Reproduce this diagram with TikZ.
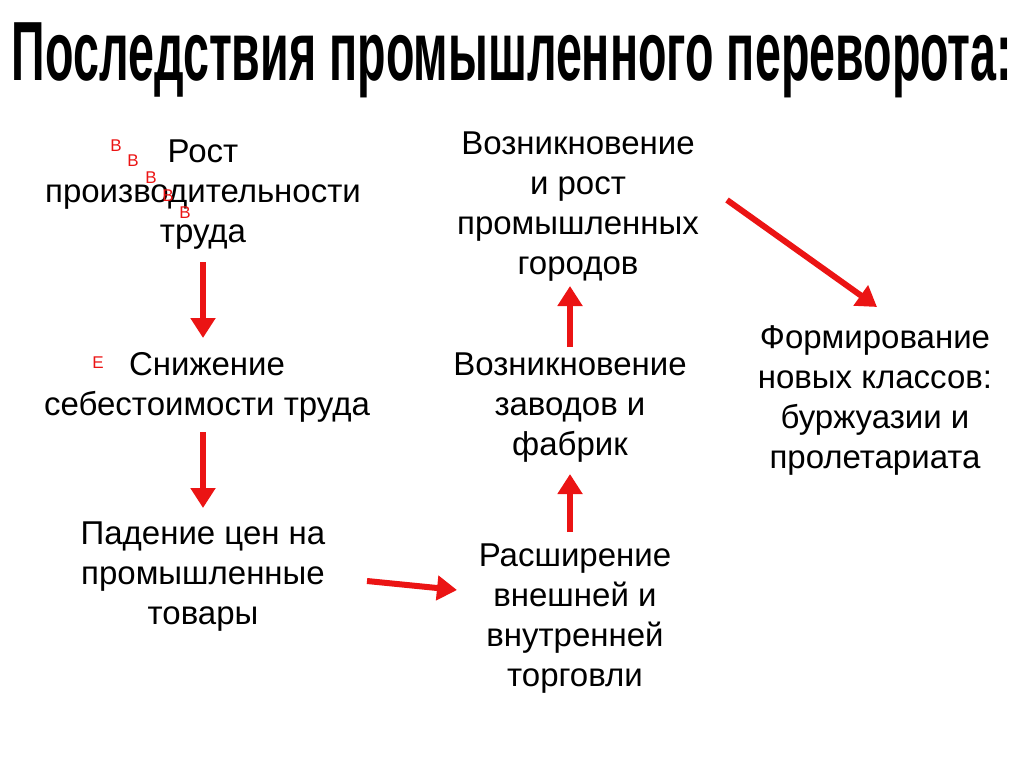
\documentclass[tikz,border=0pt]{standalone}
\usepackage{fontspec}
\setmainfont{Liberation Sans}
\usetikzlibrary{arrows.meta}
\definecolor{arrred}{RGB}{235,20,20}
\tikzset{
  txt/.style={align=center,font=\fontsize{33}{40}\selectfont,inner sep=2pt},
  redarrow/.style={draw=arrred,line width=6pt,-{Triangle[length=20pt,width=24pt]}},
  mark letter/.style={text=arrred,font=\fontsize{17}{17}\selectfont,inner sep=0pt}
}
\begin{document}
\begin{tikzpicture}[x=1pt,y=-1pt]
\useasboundingbox (0,0) rectangle (1024,767);

%title
\node (title) at (512,60) {\fontsize{84}{84}\selectfont\bfseries\addfontfeature{FakeStretch=0.555}Последствия промышленного переворота:};

%text blocks
\node[txt] (rost) at (203,195) {Рост\\производительности\\труда};
\node[txt] (snizh) at (207,387) {Снижение\\себестоимости труда};
\node[txt] (paden) at (203,577) {Падение цен на\\промышленные\\товары};
\node[txt] (rassh) at (575,619) {Расширение\\внешней и\\внутренней\\торговли};
\node[txt] (zavod) at (570,408) {Возникновение\\заводов и\\фабрик};
\node[txt] (gorod) at (578,207) {Возникновение\\и рост\\промышленных\\городов};
\node[txt] (klass) at (875,400) {Формирование\\новых классов:\\буржуазии и\\пролетариата};

%small letters
\node[mark letter] (b1) at (116,146) {В};
\node[mark letter] (b2) at (133,161) {В};
\node[mark letter] (b3) at (151,178) {В};
\node[mark letter] (b4) at (168,196) {В};
\node[mark letter] (b5) at (185,213) {В};
\node[mark letter] (e1) at (98,363) {Е};

%arrows
\coordinate (a1s) at (203,262); \coordinate (a1e) at (203,338);
\coordinate (a2s) at (203,432); \coordinate (a2e) at (203,508);
\coordinate (a3s) at (367,581); \coordinate (a3e) at (457,590);
\coordinate (a4s) at (570,532); \coordinate (a4e) at (570,474);
\coordinate (a5s) at (570,347); \coordinate (a5e) at (570,286);
\coordinate (a6s) at (727,200); \coordinate (a6e) at (877,307);
\foreach \s/\e in {a1s/a1e,a2s/a2e,a3s/a3e,a4s/a4e,a5s/a5e,a6s/a6e}
  \draw[redarrow] (\s) -- (\e);
\end{tikzpicture}
\end{document}
